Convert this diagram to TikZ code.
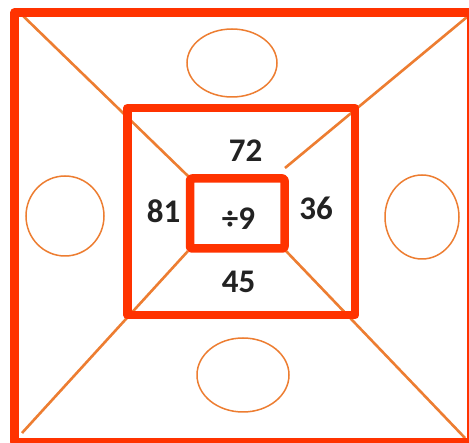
\documentclass[tikz,border=0pt]{standalone}
\usepackage{fontspec}
\setmainfont{Carlito}
\definecolor{thickred}{HTML}{FF3300}
\definecolor{thinorange}{HTML}{ED7D31}
\definecolor{txt}{HTML}{222222}
\begin{document}
\begin{tikzpicture}[x=1pt,y=-1pt,
  frame/.style={draw=thickred,line width=8.5pt,line join=round},
  diag/.style={draw=thinorange,line width=2.6pt},
  oval/.style={draw=thinorange,line width=1.5pt,ellipse},
  num/.style={inner sep=0pt,text=txt,font=\fontsize{33}{40}\selectfont\bfseries}]
\useasboundingbox (0,0) rectangle (469,443);
\fill[white] (0,0) rectangle (469,443);
% diagonals
\coordinate (tl1) at (19,12);
\coordinate (tl2) at (189,177);
\coordinate (tr1) at (467,17);
\coordinate (tr2) at (285,168);
\coordinate (bl1) at (22,433);
\coordinate (bl2) at (188,251);
\coordinate (br1) at (465,438);
\coordinate (br2) at (286,251);
\draw[diag] (tl1) -- (tl2);
\draw[diag] (tr1) -- (tr2);
\draw[diag] (bl1) -- (bl2);
\draw[diag] (br1) -- (br2);
% squares
\begin{scope}
\clip (0,0) rectangle (469,443);
\draw[frame] (14.5,12.5) rectangle (471,442);
\end{scope}
\draw[frame] (127.5,108) rectangle (355,315);
\draw[frame,rounded corners=2pt] (190,178.5) rectangle (284.5,248.5);
% ellipses
\draw[thinorange,line width=1.5pt] (232,63) ellipse [x radius=45,y radius=34];
\draw[thinorange,line width=1.5pt] (65,216) ellipse [x radius=39,y radius=40];
\draw[thinorange,line width=1.5pt] (422,217) ellipse [x radius=37,y radius=42];
\draw[thinorange,line width=1.5pt] (243,375) ellipse [x radius=46,y radius=37];
% numbers
\node[num] (n72) at (245.5,151) {72};
\node[num] (n81) at (163.5,211) {81};
\node[num] (n36) at (316,208) {36};
\node[num] (ndiv) at (238.5,219) {÷9};
\node[num] (n45) at (238.5,282) {45};
\end{tikzpicture}
\end{document}
